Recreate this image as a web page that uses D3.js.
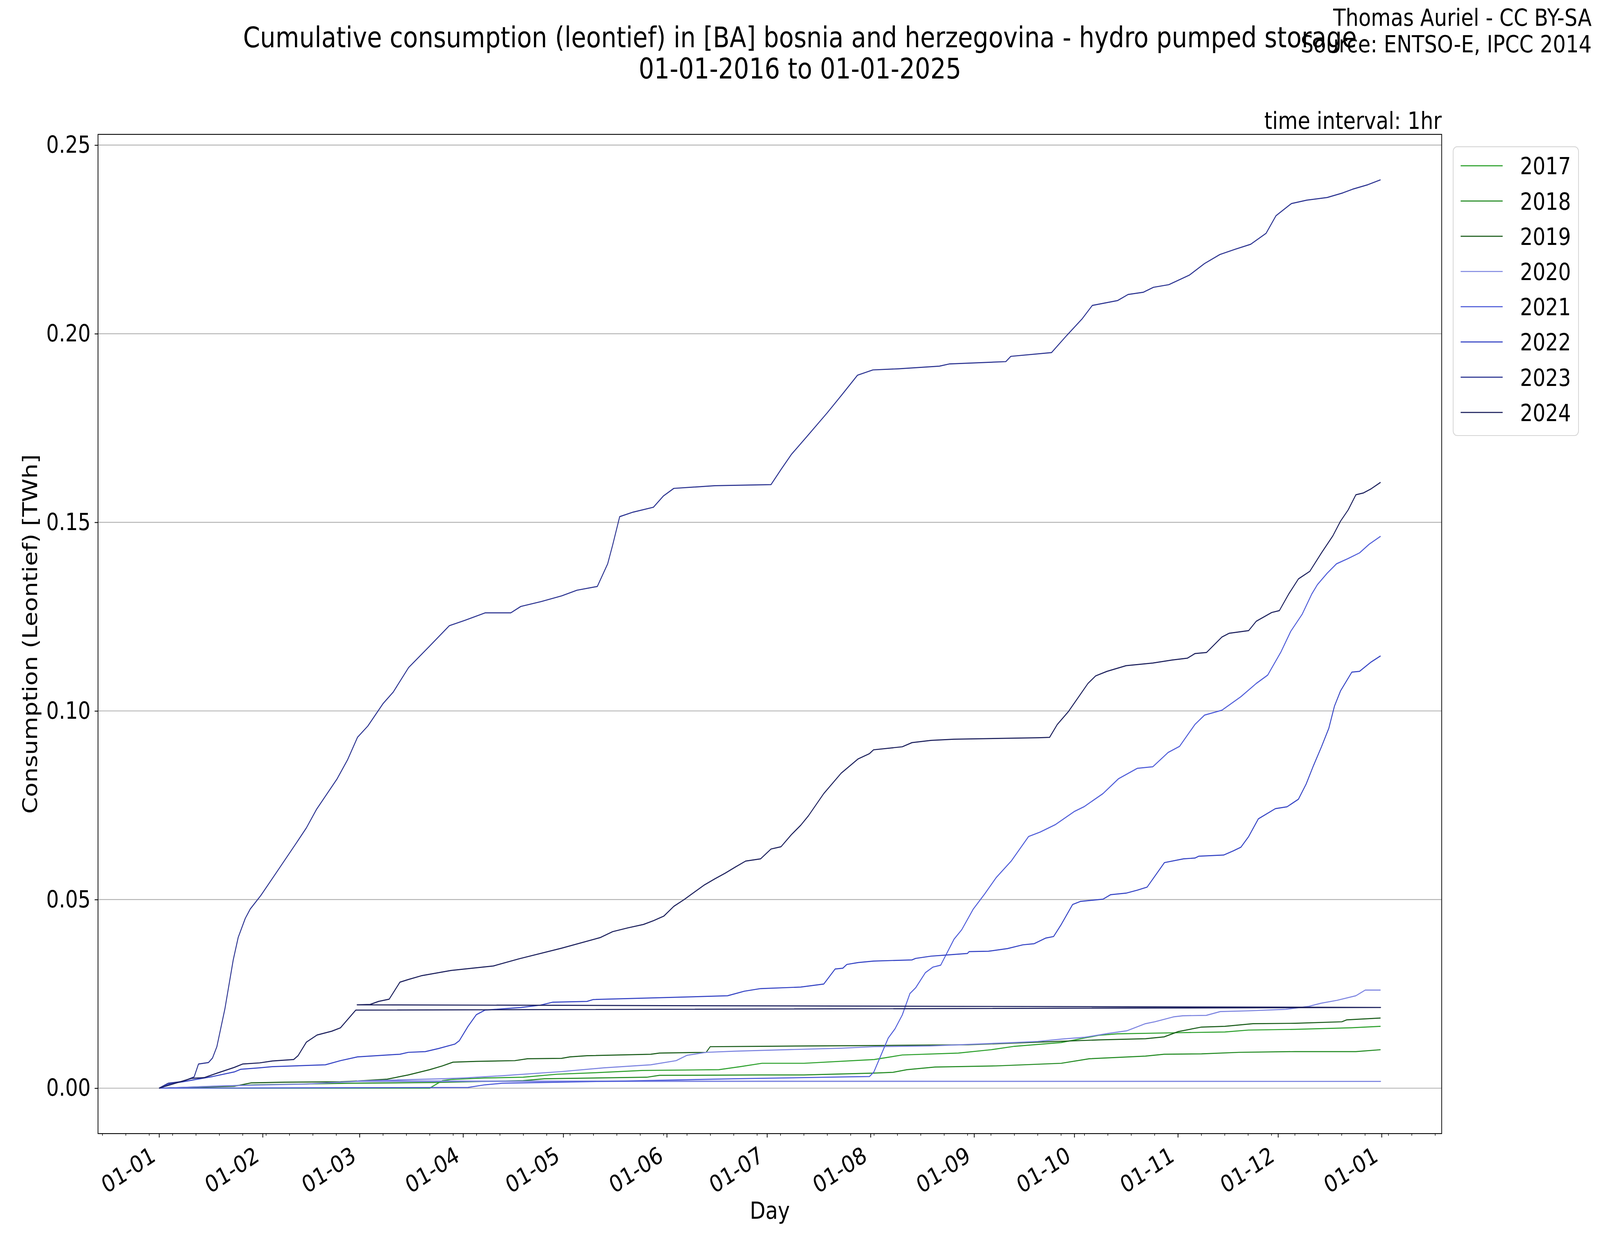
<!DOCTYPE html>
<html>
<head>
<meta charset="utf-8">
<script src="https://cdnjs.cloudflare.com/ajax/libs/d3/7.8.5/d3.min.js"></script>
<style>
  html, body { margin: 0; padding: 0; width: 100%; height: 100%; overflow: hidden; background: #fff; }
  #chart { width: 100%; height: 100%; }
  svg { display: block; }
  text { font-family: "DejaVu Sans", sans-serif; fill: #000; }
</style>
</head>
<body>
<div id="chart"></div>
<script>
// each series: [day of year (0 = 1 Jan, leap-year calendar), cumulative TWh]
const years = ["2017", "2018", "2019", "2020", "2021", "2022", "2023", "2024"];
const colors = ["#2ca02c", "#238b23", "#1a5c1a", "#7b83e0", "#4c5ad8", "#3443c4", "#2a3290", "#1b1f5c"];

const s2017 = [[0,0],[81,0],[84.8,0.002],[87.4,0.0023],[97.6,0.0027],[109,0.0029],[119.2,0.0037],[130.7,0.0041],[144.7,0.0047],[167.6,0.0049],[174,0.0057],[180.5,0.0066],[193.1,0.0066],[214.1,0.0076],[222.5,0.0088],[239.3,0.0093],[249.1,0.0102],[256.1,0.0111],[270.1,0.0121],[277.1,0.0133],[281.3,0.014],[286.9,0.0144],[305.1,0.0147],[319.1,0.0149],[326.1,0.0154],[340.1,0.0156],[356.9,0.016],[365.7,0.0164]];
const s2018 = [[0,0],[23.7,0.0007],[28.8,0.0009],[56.8,0.0013],[82.3,0.0015],[109,0.002],[115.4,0.0025],[146,0.0029],[149.8,0.0034],[180.1,0.0035],[193.1,0.0035],[214.1,0.004],[219.7,0.0042],[223.9,0.0049],[232.3,0.0056],[250.5,0.0059],[270.1,0.0066],[278.5,0.0078],[295.3,0.0085],[300.9,0.009],[312.1,0.0091],[323.3,0.0095],[340.1,0.0097],[358.3,0.0097],[365.7,0.0102]];
const s2019 = [[0,0],[22.5,0.0005],[27.5,0.0014],[37.7,0.0016],[54.3,0.0017],[59.4,0.0019],[68.3,0.0024],[74.6,0.0035],[81,0.0049],[84.8,0.0059],[88,0.0069],[95,0.0071],[106.5,0.0073],[110.3,0.0078],[120.5,0.0079],[123,0.0083],[128.1,0.0086],[147.2,0.009],[149.8,0.0093],[163.8,0.0095],[165,0.011],[180,0.0111],[214.1,0.0113],[242.1,0.0115],[263.1,0.0122],[281.3,0.0128],[295.3,0.0131],[300.9,0.0136],[305.1,0.015],[312.1,0.0162],[319.1,0.0164],[327.5,0.0171],[340.1,0.0172],[354.1,0.0176],[355.5,0.0181],[365.7,0.0186]];
const s2020 = [[0,0],[18.6,0.0006],[44.1,0.0011],[58.9,0.0018],[365.7,0.0018],[59.3,0.0019],[84.8,0.0025],[91.2,0.0027],[102.7,0.0033],[120.5,0.0044],[133.2,0.0054],[147.2,0.0062],[154.8,0.0073],[158,0.0087],[163.8,0.0095],[172.1,0.0098],[180,0.01],[204.3,0.0106],[214.1,0.011],[230.9,0.0112],[256.1,0.0121],[263.1,0.0124],[270.1,0.013],[277.1,0.0135],[284.1,0.0145],[289.7,0.0152],[295.3,0.0171],[298.1,0.0176],[303.7,0.0189],[306.5,0.0192],[313.5,0.0193],[317.7,0.0203],[326.1,0.0205],[337.3,0.0209],[344.3,0.0217],[347.8,0.0225],[352.7,0.0233],[358.3,0.0245],[361.1,0.026],[365.7,0.026]];
const s2021 = [[0,0],[92.5,0.0002],[97.6,0.0009],[102.7,0.0013],[120.5,0.0016],[139.6,0.0019],[172.1,0.0025],[193.1,0.0028],[212.7,0.0031],[214,0.0043],[218.3,0.0133],[220.3,0.0157],[222.5,0.0194],[224.8,0.0251],[226.5,0.0266],[229.4,0.0306],[231.7,0.0321],[234,0.0326],[238,0.0395],[240.3,0.042],[243.7,0.0474],[247.1,0.0514],[250.6,0.0558],[255.2,0.0603],[260.3,0.0667],[263.8,0.0679],[268.4,0.0699],[274.1,0.0734],[276.9,0.0746],[282.6,0.0781],[287.2,0.082],[292.9,0.0848],[297.5,0.0852],[302.1,0.089],[305.5,0.0906],[310.1,0.0964],[313,0.0989],[318.2,0.1002],[323.9,0.1038],[328.5,0.1073],[331.9,0.1095],[335.9,0.1157],[338.8,0.1211],[342.2,0.1256],[345.1,0.131],[346.8,0.1335],[349.7,0.1365],[352.5,0.139],[356,0.1404],[359.4,0.1419],[362.3,0.1442],[365.7,0.1463]];
const s2022 = [[0,0],[3.4,0.0012],[7.8,0.0018],[16.1,0.0031],[22.5,0.0043],[24.4,0.005],[30.1,0.0054],[33.9,0.0057],[49.8,0.0062],[54.3,0.0073],[59.4,0.0083],[72.1,0.009],[74.6,0.0095],[79.7,0.0097],[83.6,0.0105],[88.6,0.0117],[89.9,0.0126],[92.5,0.0164],[95,0.0195],[97.6,0.0207],[108.4,0.0214],[114.1,0.022],[117.9,0.0228],[128.1,0.023],[130,0.0235],[151,0.024],[170.2,0.0245],[175.2,0.0257],[180.1,0.0264],[192.1,0.0268],[199,0.0276],[202.4,0.0316],[204.7,0.0318],[205.9,0.0328],[209.3,0.0333],[213.9,0.0337],[225.4,0.034],[226.5,0.0344],[231.1,0.035],[235.7,0.0353],[242,0.0357],[242.5,0.0362],[248.3,0.0363],[254,0.037],[258.6,0.038],[262,0.0383],[265.5,0.0398],[267.8,0.0402],[270.1,0.0434],[273.5,0.0487],[275.8,0.0495],[282.6,0.0501],[284.9,0.0513],[289.5,0.0517],[292.9,0.0525],[295.8,0.0533],[301,0.0598],[306.7,0.0608],[310.1,0.061],[311.3,0.0615],[318.7,0.0618],[321.6,0.0629],[323.9,0.0639],[326.2,0.0667],[329.1,0.0714],[334.2,0.0741],[337.7,0.0746],[341.1,0.0766],[343.4,0.0806],[345.6,0.0855],[348,0.0905],[350.2,0.0954],[351.9,0.1013],[353.7,0.1053],[357.1,0.1103],[359.4,0.1105],[362.9,0.113],[365.7,0.1146]];
const s2023 = [[0,0],[2.7,0.0013],[7.2,0.0018],[10.5,0.003],[11.8,0.0064],[14.8,0.0068],[16,0.008],[17.3,0.011],[19.7,0.021],[22.2,0.034],[23.7,0.04],[25.8,0.045],[27.3,0.0475],[30.4,0.051],[35,0.057],[41.1,0.065],[44.1,0.069],[47.2,0.074],[53.3,0.082],[56.4,0.087],[59.4,0.093],[62.5,0.096],[67.1,0.102],[70.1,0.105],[74.7,0.1115],[80.8,0.117],[86.9,0.1226],[91.5,0.124],[97.6,0.126],[105.3,0.126],[108.3,0.1277],[114.4,0.129],[120.5,0.1305],[125.1,0.132],[131.2,0.133],[134.3,0.139],[135.8,0.144],[137.9,0.1515],[141.9,0.1527],[148,0.154],[151,0.157],[154.1,0.159],[166.4,0.1597],[183.2,0.16],[186.2,0.164],[189.3,0.168],[193.9,0.1727],[200,0.179],[204.6,0.184],[209.1,0.189],[213.7,0.1904],[221.4,0.1907],[233.6,0.1914],[236.7,0.192],[253.5,0.1926],[255,0.194],[267.2,0.195],[271.8,0.1996],[276.4,0.204],[279.4,0.2075],[287,0.2088],[290.1,0.2104],[294.7,0.211],[297.7,0.2123],[302.3,0.213],[308.4,0.2155],[313,0.2186],[317.6,0.221],[322.2,0.2224],[326.8,0.2237],[331.4,0.2266],[334.4,0.2313],[339,0.2345],[343.6,0.2354],[349.7,0.2361],[354.3,0.2373],[357.3,0.2383],[361.9,0.2395],[365.7,0.2408]];
const s2024 = [[0,0],[9.7,0.0026],[13.5,0.0028],[17.4,0.004],[22.5,0.0055],[25,0.0064],[30.1,0.0067],[33.9,0.0072],[40.3,0.0076],[41.6,0.0086],[44.1,0.0122],[47.3,0.0141],[51.7,0.0151],[54.3,0.016],[58.9,0.0207],[365.7,0.0214],[59.3,0.0221],[63.2,0.0222],[65.7,0.023],[68.9,0.0236],[72.1,0.0281],[74.6,0.0288],[78.5,0.0298],[87.4,0.0312],[100.1,0.0324],[107.8,0.0343],[120.5,0.0371],[132,0.0399],[135.8,0.0415],[140.4,0.0425],[145,0.0434],[148,0.0444],[151.1,0.0456],[154.1,0.0482],[157.2,0.05],[160.3,0.052],[163.3,0.0539],[166.4,0.0555],[169.5,0.057],[172.5,0.0586],[175.6,0.0602],[180.1,0.0608],[183.2,0.0634],[186.2,0.064],[189.3,0.0672],[192.1,0.0697],[194.4,0.0722],[199,0.0781],[204.2,0.0835],[209.3,0.0873],[212.7,0.0887],[213.9,0.0897],[222.5,0.0905],[225.4,0.0916],[231.1,0.0922],[238,0.0925],[263.2,0.0929],[266.6,0.093],[268.9,0.0964],[272.3,0.0999],[278.1,0.1073],[280.4,0.1093],[283.8,0.1105],[289.5,0.112],[297.5,0.1127],[303.3,0.1135],[307.9,0.114],[310.1,0.1152],[313.6,0.1155],[318.2,0.1196],[320.4,0.1206],[326.2,0.1213],[328.5,0.1238],[333.1,0.1261],[335.4,0.1266],[338.2,0.131],[341.1,0.135],[344.5,0.137],[348,0.1419],[351.4,0.1464],[353.7,0.1503],[356,0.1533],[358.3,0.1573],[360.6,0.1578],[362.9,0.1589],[365.7,0.1606]];

const series = [s2017, s2018, s2019, s2020, s2021, s2022, s2023, s2024];
const yTicks = [0, 0.05, 0.10, 0.15, 0.20, 0.25];

const width = 4800, height = 3200;
const box = {left: 294, right: 4325, top: 344, bottom: 2902};

const base = Date.UTC(2024, 0, 1);
const toDate = d => new Date(base + d * 864e5);

// the drawing is laid out on a 4800x3200 canvas and stretched to fill the window
const svg = d3.select("#chart")
    .append("svg")
    .attr("viewBox", `0 0 ${width} ${height}`)
    .attr("preserveAspectRatio", "none")
    .attr("width", "100%")
    .attr("height", "100%");

svg.append("rect")
    .attr("width", width)
    .attr("height", height)
    .attr("fill", "white");

const dayMax = d3.max(series, s => d3.max(s, d => d[0]));
const xPad = dayMax * 0.05;
const xScale = d3.scaleUtc()
    .domain([toDate(-xPad), toDate(dayMax + xPad)])
    .range([box.left, box.right]);

const vMax = d3.max(series, s => d3.max(s, d => d[1]));
const yPad = vMax * 0.05;
const yScale = d3.scaleLinear()
    .domain([-yPad, vMax + yPad])
    .range([box.bottom, box.top]);

// grid
svg.append("g")
    .selectAll("line")
    .data(yTicks)
    .join("line")
    .attr("x1", box.left)
    .attr("x2", box.right)
    .attr("y1", d => yScale(d))
    .attr("y2", d => yScale(d))
    .attr("stroke", "#b0b0b0")
    .attr("stroke-width", 2.2);

let line = d3.line()
    .x(d => xScale(toDate(d[0])))
    .y(d => yScale(d[1]));

svg.append("g")
    .selectAll("path")
    .data(series)
    .join("path")
    .attr("fill", "none")
    .attr("stroke", (d, i) => colors[i])
    .attr("stroke-width", 2.7)
    .attr("stroke-linejoin", "round")
    .attr("d", line);

// spines
svg.append("rect")
    .attr("x", box.left)
    .attr("y", box.top)
    .attr("width", box.right - box.left)
    .attr("height", box.bottom - box.top)
    .attr("fill", "none")
    .attr("stroke", "black")
    .attr("stroke-width", 2.2);

// y axis
const yAxis = svg.append("g")
    .attr("transform", `translate(${box.left},0)`)
    .call(d3.axisLeft(yScale).tickValues(yTicks).tickFormat(d3.format(".2f")).tickSize(10).tickPadding(12));
yAxis.select(".domain").remove();
yAxis.selectAll("line").attr("stroke-width", 2.2);
yAxis.selectAll("text").style("font-size", "60px").attr("font-family", null);

// x axis, monthly major ticks
const majors = d3.utcMonth.range(toDate(0), toDate(367));
const xAxis = svg.append("g")
    .attr("transform", `translate(0,${box.bottom})`)
    .call(d3.axisBottom(xScale).tickValues(majors).tickFormat(d3.utcFormat("%d-%m")).tickSize(10));
xAxis.select(".domain").remove();
xAxis.selectAll("line").attr("stroke-width", 2.2);
xAxis.selectAll("text")
    .style("font-size", "60px")
    .attr("font-family", null)
    .attr("text-anchor", "end")
    .attr("x", 0)
    .attr("y", 0)
    .attr("dy", "0.76em")
    .attr("transform", "translate(-30,28) rotate(-30)");

// weekly minor ticks
const minors = d3.utcDay.range(new Date(Date.UTC(2023, 11, 15)), xScale.domain()[1], 7);
const xMinor = svg.append("g")
    .attr("transform", `translate(0,${box.bottom})`)
    .call(d3.axisBottom(xScale).tickValues(minors).tickFormat("").tickSize(5.6));
xMinor.select(".domain").remove();
xMinor.selectAll("line").attr("stroke-width", 1.6);

// labels
svg.append("text")
    .attr("x", (box.left + box.right) / 2)
    .attr("y", 3120)
    .attr("text-anchor", "middle")
    .style("font-size", "61px")
    .text("Day");
svg.append("text")
    .attr("transform", `translate(111,${(box.top + box.bottom) / 2}) rotate(-90)`)
    .attr("text-anchor", "middle")
    .style("font-size", "61px")
    .text("Consumption (Leontief) [TWh]");

svg.append("text")
    .attr("x", 2400)
    .attr("y", 121)
    .attr("text-anchor", "middle")
    .style("font-size", "73px")
    .text("Cumulative consumption (leontief) in [BA] bosnia and herzegovina - hydro pumped storage");
svg.append("text")
    .attr("x", 2400)
    .attr("y", 201)
    .attr("text-anchor", "middle")
    .style("font-size", "73px")
    .text("01-01-2016 to 01-01-2025");

svg.append("text")
    .attr("x", 4775)
    .attr("y", 66)
    .attr("text-anchor", "end")
    .style("font-size", "61px")
    .text("Thomas Auriel - CC BY-SA");
svg.append("text")
    .attr("x", 4775)
    .attr("y", 134)
    .attr("text-anchor", "end")
    .style("font-size", "61px")
    .text("Source: ENTSO-E, IPCC 2014");

svg.append("text")
    .attr("x", box.right)
    .attr("y", 330)
    .attr("text-anchor", "end")
    .style("font-size", "61px")
    .text("time interval: 1hr");

// legend
const legend = svg.append("g")
    .attr("transform", "translate(4359.5,375.6)");
legend.append("rect")
    .attr("width", 376)
    .attr("height", 739.4)
    .attr("rx", 12)
    .attr("fill", "white")
    .attr("fill-opacity", 0.8)
    .attr("stroke", "#d4d4d4")
    .attr("stroke-width", 2.2);
const items = legend.selectAll("g.item")
    .data(years)
    .join("g")
    .attr("class", "item")
    .attr("transform", (d, i) => `translate(0,${48.8 + i * 90.2})`);
items.append("line")
    .attr("x1", 22.5)
    .attr("x2", 148.5)
    .attr("stroke", (d, i) => colors[i])
    .attr("stroke-width", 2.7);
items.append("text")
    .attr("x", 200.5)
    .attr("y", 22)
    .style("font-size", "60px")
    .text(d => d);
</script>
</body>
</html>
